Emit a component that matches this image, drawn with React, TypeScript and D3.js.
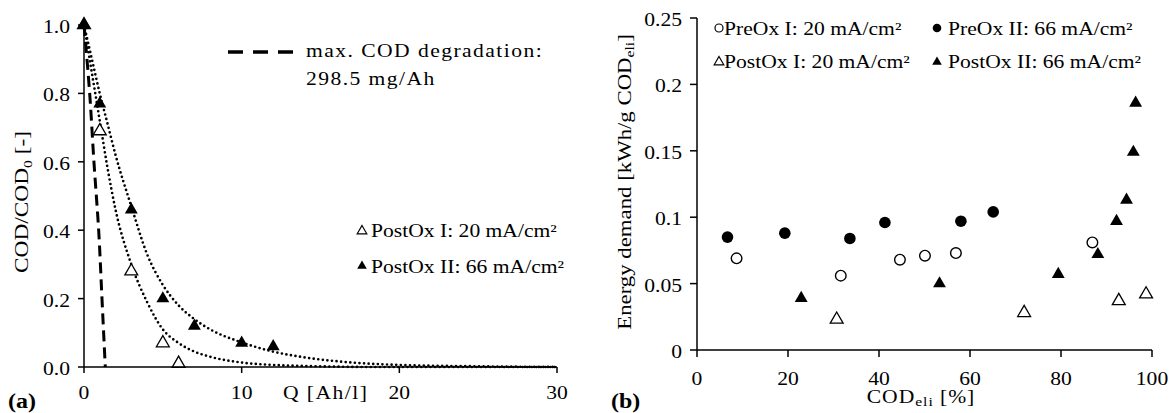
import React from "react";
import * as d3 from "d3";

// ---- (a) COD decay ----
const qPostOxI = [0, 1, 3, 5, 6];
const codPostOxI = [1.0, 0.69, 0.28, 0.07, 0.01];
const qPostOxII = [0, 1, 3, 5, 7, 10, 12];
const codPostOxII = [1.0, 0.77, 0.46, 0.2, 0.12, 0.07, 0.06];

// fitted curves
const fitQ = [0, 0.5, 1, 1.5, 2, 3, 4, 5, 6, 7, 8, 10, 12, 14, 16, 18, 20, 25, 30];
const fitI = [1, 0.86, 0.72, 0.58, 0.46, 0.3, 0.19, 0.11, 0.07, 0.045, 0.03, 0.013, 0.006, 0.003, 0.001, 0, 0, 0, 0];
const fitII = [1, 0.9, 0.8, 0.71, 0.62, 0.47, 0.33, 0.24, 0.18, 0.14, 0.11, 0.072, 0.045, 0.028, 0.017, 0.01, 0.006, 0.002, 0];

// max. COD degradation line
const maxQ = [0, 0.36, 0.63, 0.93, 1.14, 1.35];
const maxCod = [1, 0.8, 0.6, 0.4, 0.2, 0];

const xTicksA = [0, 10, 20, 30];
const yTicksA = [0, 0.2, 0.4, 0.6, 0.8, 1.0];

// ---- (b) energy demand ----
const preOxIx = [8.7, 31.6, 44.6, 50.1, 56.9, 86.9];
const preOxIy = [0.069, 0.056, 0.068, 0.071, 0.073, 0.081];
const preOxIIx = [6.7, 19.3, 33.6, 41.3, 58.0, 65.1];
const preOxIIy = [0.085, 0.088, 0.084, 0.096, 0.097, 0.104];
const postOxIx = [30.7, 71.9, 92.7, 98.7];
const postOxIy = [0.023, 0.028, 0.037, 0.042];
const postOxIIx = [22.9, 53.3, 79.4, 88.1, 92.2, 94.4, 95.9, 96.4];
const postOxIIy = [0.039, 0.05, 0.057, 0.072, 0.097, 0.113, 0.149, 0.186];

const xTicksB = [0, 20, 40, 60, 80, 100];
const yTicksB = [0, 0.05, 0.1, 0.15, 0.2, 0.25];
const yTickLabelsB = ["0", "0.05", "0.1", "0.15", "0.2", "0.25"];

const FONT = "'Liberation Serif', 'Times New Roman', serif";
const SX = 1.2; // text in the picture is drawn wide
const FS = 18;

function Txt({ x, y, anchor = "start", size = FS, bold = false, spacing = 0, children }: any) {
  return (
    <text
      transform={`translate(${x},${y}) scale(${SX},1)`}
      textAnchor={anchor}
      fontSize={size}
      fontFamily={FONT}
      fontWeight={bold ? "bold" : "normal"}
      letterSpacing={spacing}
      fill="#000"
    >
      {children}
    </text>
  );
}

function VTxt({ x, y, size = FS, children }: any) {
  return (
    <text
      transform={`translate(${x},${y}) rotate(-90) scale(${SX},1)`}
      textAnchor="middle"
      fontSize={size}
      fontFamily={FONT}
      fill="#000"
    >
      {children}
    </text>
  );
}

const tri = d3.symbol().type(d3.symbolTriangle).size(72)() as string;
const triSmall = d3.symbol().type(d3.symbolTriangle).size(40)() as string;

export default function App() {
  const xA = d3.scaleLinear().domain([0, 30]).range([84, 557]);
  const yA = d3.scaleLinear().domain([0, 1]).range([367, 25]);
  const xB = d3.scaleLinear().domain([0, 100]).range([697, 1152]);
  const yB = d3.scaleLinear().domain([0, 0.25]).range([350, 18]);

  const lineA = d3
    .line<[number, number]>()
    .x((d) => xA(d[0]))
    .y((d) => yA(d[1]))
    .curve(d3.curveMonotoneX);
  const steepA = d3
    .line<[number, number]>()
    .x((d) => xA(d[0]))
    .y((d) => yA(d[1]))
    .curve(d3.curveMonotoneY);

  const fitIPath = lineA(fitQ.map((q, i) => [q, fitI[i]]));
  const fitIIPath = lineA(fitQ.map((q, i) => [q, fitII[i]]));
  const maxPath = steepA(maxQ.map((q, i) => [q, maxCod[i]]));

  return (
    <svg width={1173} height={413} style={{ position: "absolute", left: 0, top: 0, background: "#fff" }}>
      {/* ========== (a) ========== */}
      <path d={fitIPath!} fill="none" stroke="#000" strokeWidth={2.7} strokeDasharray="0 4.6" strokeLinecap="round" />
      <path d={fitIIPath!} fill="none" stroke="#000" strokeWidth={2.7} strokeDasharray="0 4.6" strokeLinecap="round" />
      <path d={maxPath!} fill="none" stroke="#000" strokeWidth={3} strokeDasharray="11 6" />

      {qPostOxI.map((q, i) => (
        <path key={"a1" + i} d={tri} transform={`translate(${xA(q)},${yA(codPostOxI[i])})`} fill="#fff" stroke="#000" strokeWidth={1.3} />
      ))}
      {qPostOxII.map((q, i) => (
        <path key={"a2" + i} d={tri} transform={`translate(${xA(q)},${yA(codPostOxII[i])})`} fill="#000" />
      ))}

      {/* axes */}
      <line x1={xA(0)} x2={xA(30)} y1={yA(0)} y2={yA(0)} stroke="#000" strokeWidth={1.5} />
      <line x1={xA(0)} x2={xA(0)} y1={yA(0)} y2={yA(1)} stroke="#000" strokeWidth={1.5} />
      {xTicksA.map((t) => (
        <g key={"xa" + t}>
          <line x1={xA(t)} x2={xA(t)} y1={yA(0)} y2={yA(0) + 6} stroke="#000" strokeWidth={1.5} />
          <Txt x={xA(t)} y={yA(0) + 32} anchor="middle">{t}</Txt>
        </g>
      ))}
      {yTicksA.map((t) => (
        <g key={"ya" + t}>
          <line x1={xA(0) - 6} x2={xA(0)} y1={yA(t)} y2={yA(t)} stroke="#000" strokeWidth={1.5} />
          <Txt x={xA(0) - 14} y={yA(t) + 8} anchor="end">{t.toFixed(1)}</Txt>
        </g>
      ))}
      <Txt x={283} y={399} spacing={1.2}>Q [Ah/l]</Txt>
      <VTxt x={28} y={202} size={19.5}>
        COD/COD<tspan fontSize={13} dy={4}>0</tspan>
        <tspan dy={-4}>  [-]</tspan>
      </VTxt>
      <Txt x={8} y={408} size={20} bold>(a)</Txt>

      {/* legend (a) */}
      <line x1={228} x2={293} y1={52} y2={52} stroke="#000" strokeWidth={3.5} strokeDasharray="15 10" />
      <Txt x={306} y={57} spacing={1.2}>max.  COD degradation:</Txt>
      <Txt x={306} y={85} spacing={1.2}>298.5  mg/Ah</Txt>
      <path d={triSmall} transform="translate(362,231)" fill="#fff" stroke="#000" strokeWidth={1.2} />
      <Txt x={371} y={237}>PostOx I: 20 mA/cm²</Txt>
      <path d={triSmall} transform="translate(362,266)" fill="#000" />
      <Txt x={371} y={273}>PostOx II: 66 mA/cm²</Txt>

      {/* ========== (b) ========== */}
      {preOxIx.map((x, i) => (
        <circle key={"b1" + i} cx={xB(x)} cy={yB(preOxIy[i])} r={5.3} fill="#fff" stroke="#000" strokeWidth={1.4} />
      ))}
      {preOxIIx.map((x, i) => (
        <circle key={"b2" + i} cx={xB(x)} cy={yB(preOxIIy[i])} r={5.8} fill="#000" />
      ))}
      {postOxIx.map((x, i) => (
        <path key={"b3" + i} d={tri} transform={`translate(${xB(x)},${yB(postOxIy[i])})`} fill="#fff" stroke="#000" strokeWidth={1.3} />
      ))}
      {postOxIIx.map((x, i) => (
        <path key={"b4" + i} d={tri} transform={`translate(${xB(x)},${yB(postOxIIy[i])})`} fill="#000" />
      ))}

      <line x1={xB(0)} x2={xB(100)} y1={yB(0)} y2={yB(0)} stroke="#000" strokeWidth={1.5} />
      <line x1={xB(0)} x2={xB(0)} y1={yB(0)} y2={yB(0.25)} stroke="#000" strokeWidth={1.5} />
      {xTicksB.map((t) => (
        <g key={"xb" + t}>
          <line x1={xB(t)} x2={xB(t)} y1={yB(0)} y2={yB(0) + 7} stroke="#000" strokeWidth={1.5} />
          <Txt x={xB(t)} y={yB(0) + 35} anchor="middle">{t}</Txt>
        </g>
      ))}
      {yTicksB.map((t, i) => (
        <g key={"yb" + t}>
          <line x1={xB(0) - 7} x2={xB(0)} y1={yB(t)} y2={yB(t)} stroke="#000" strokeWidth={1.5} />
          <Txt x={xB(0) - 15} y={yB(t) + 8} anchor="end">{yTickLabelsB[i]}</Txt>
        </g>
      ))}
      <Txt x={921} y={403} anchor="middle" spacing={0.8}>
        COD<tspan fontSize={13} dy={3}>eli</tspan>
        <tspan dy={-3}>  [%]</tspan>
      </Txt>
      <VTxt x={631} y={182} size={19}>
        Energy demand [kWh/g COD<tspan fontSize={13} dy={3}>eli</tspan>
        <tspan dy={-3}>]</tspan>
      </VTxt>
      <Txt x={611} y={408} size={20} bold>(b)</Txt>

      {/* legend (b) */}
      <circle cx={719} cy={28} r={4} fill="#fff" stroke="#000" strokeWidth={1.2} />
      <Txt x={724} y={35}>PreOx I: 20 mA/cm²</Txt>
      <circle cx={937} cy={28} r={4.3} fill="#000" />
      <Txt x={948} y={35}>PreOx II: 66 mA/cm²</Txt>
      <path d={triSmall} transform="translate(719,62)" fill="#fff" stroke="#000" strokeWidth={1.2} />
      <Txt x={724} y={68}>PostOx I: 20 mA/cm²</Txt>
      <path d={triSmall} transform="translate(937,62)" fill="#000" />
      <Txt x={948} y={68}>PostOx II: 66 mA/cm²</Txt>
    </svg>
  );
}
